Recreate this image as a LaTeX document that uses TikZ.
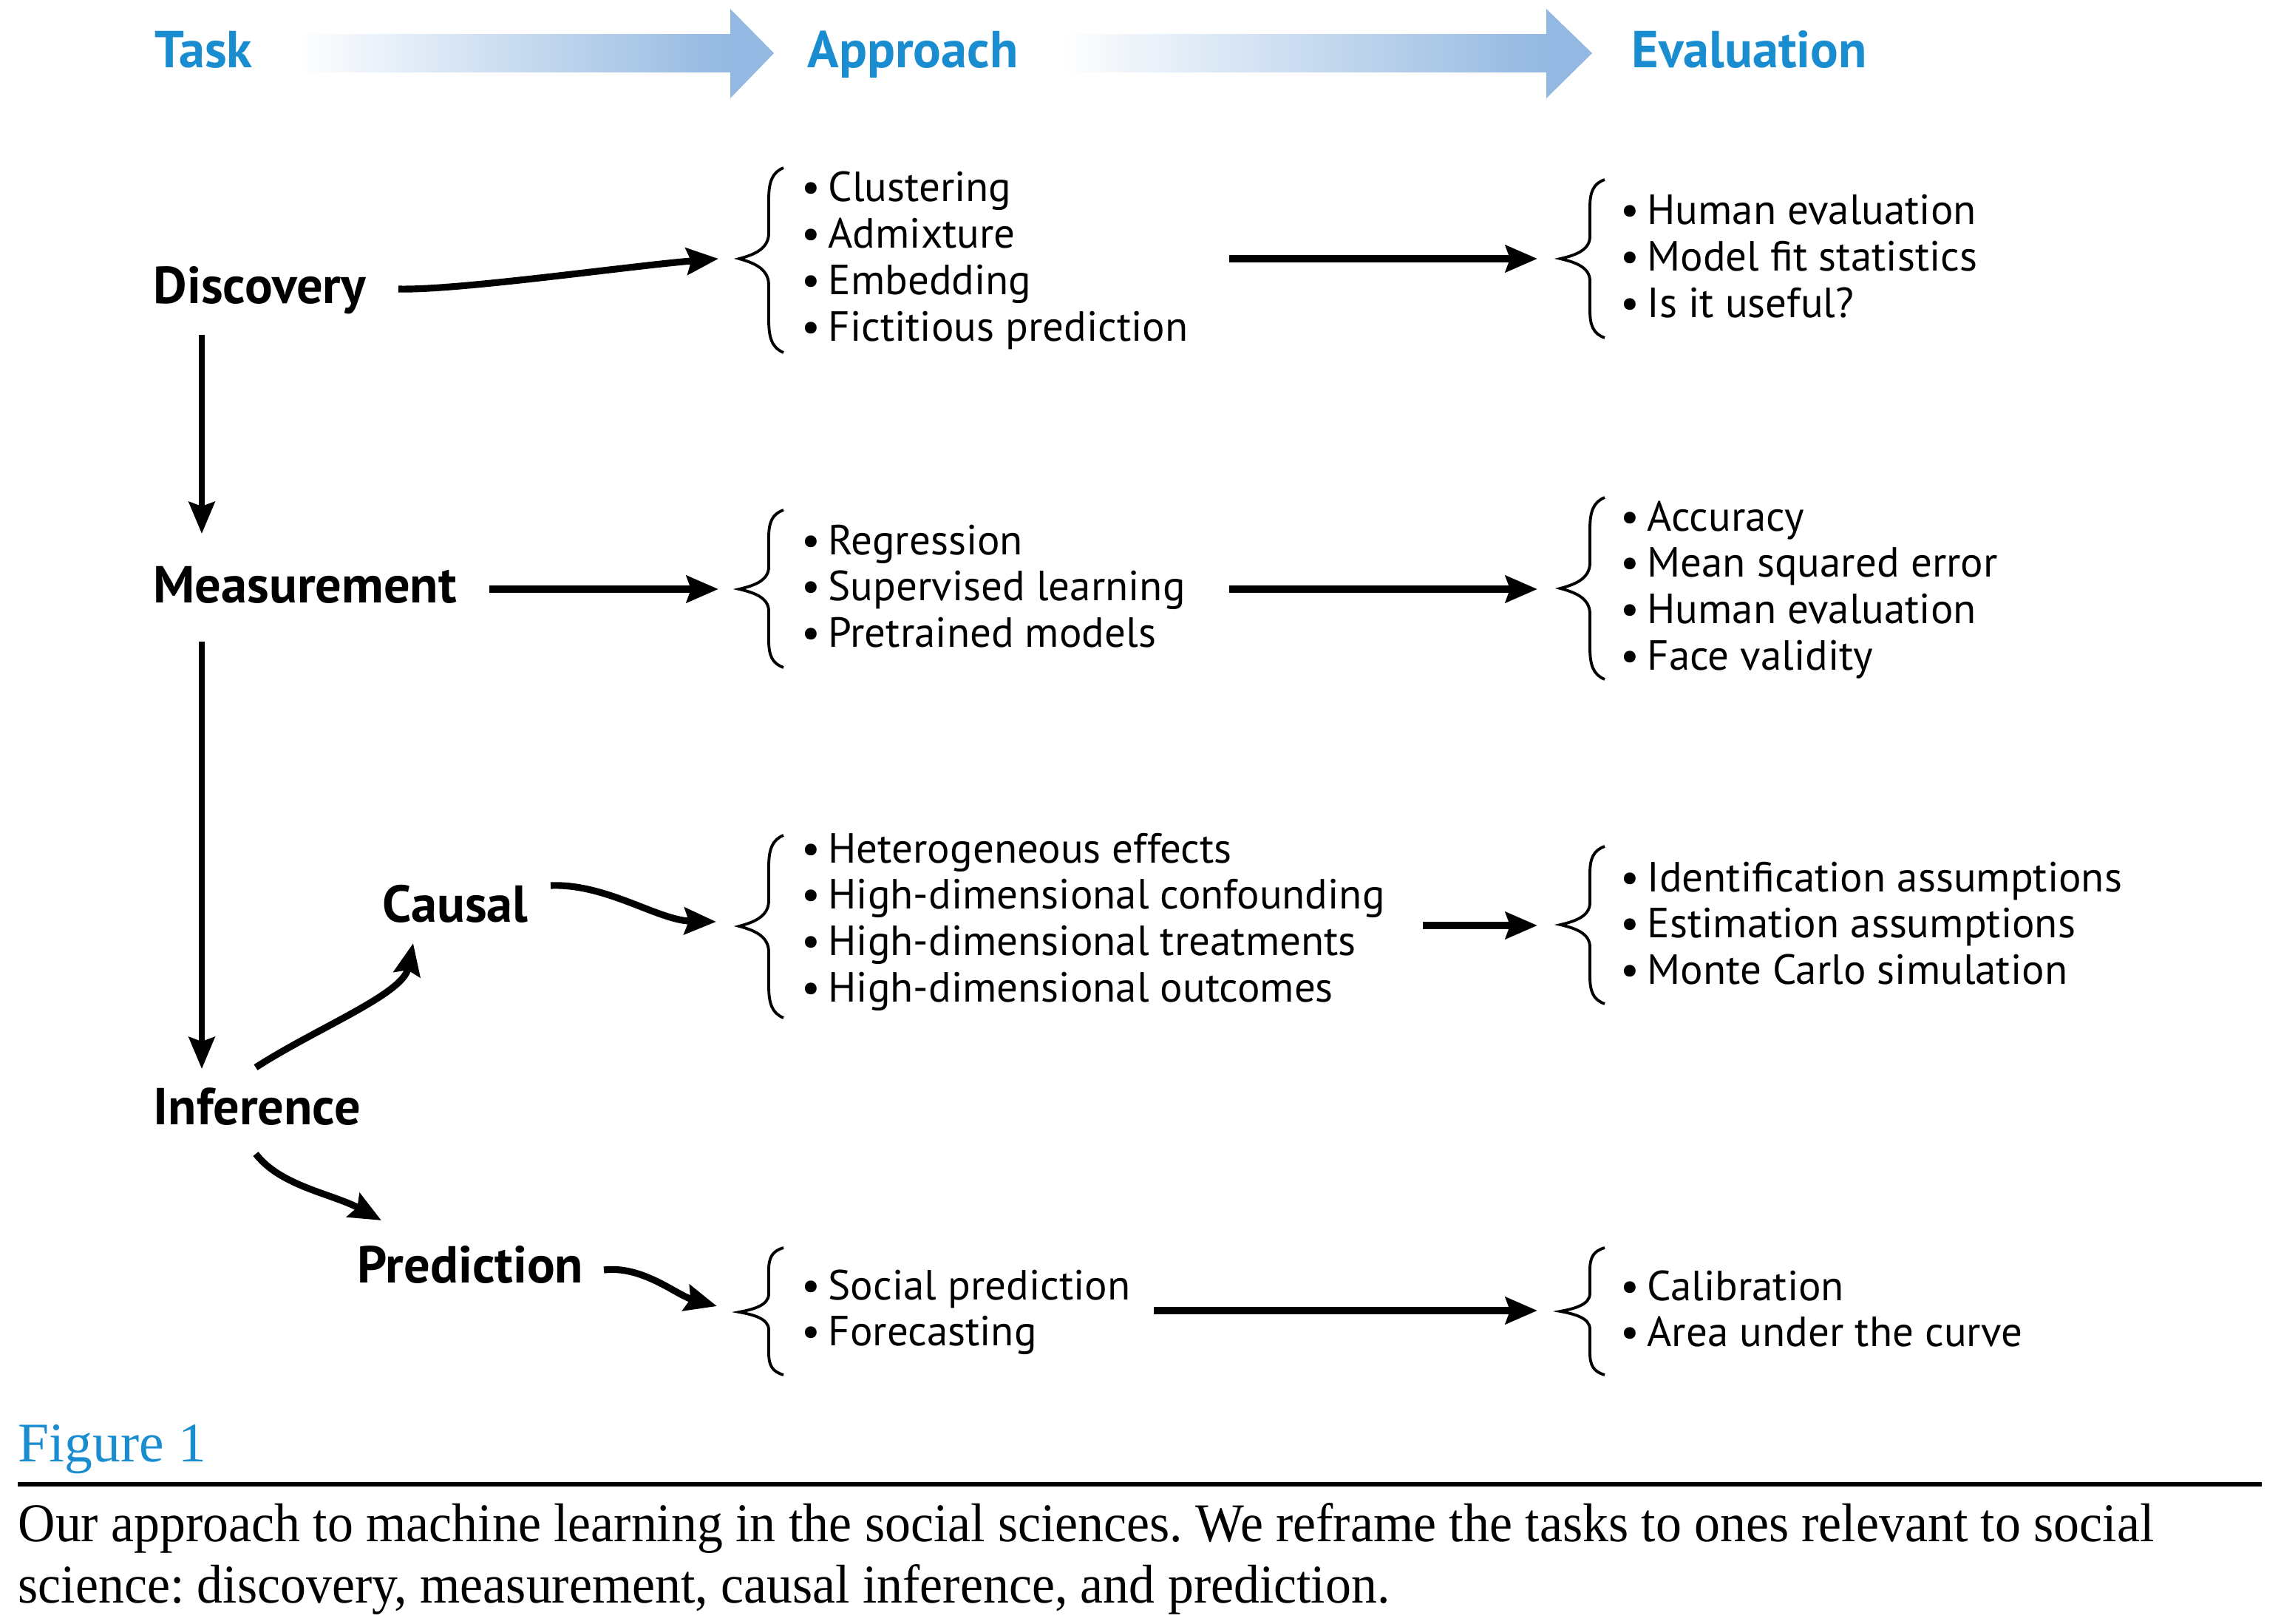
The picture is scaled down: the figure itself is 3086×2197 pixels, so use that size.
\documentclass[tikz,border=0pt]{standalone}
\usepackage{fontspec}
\setmainfont{Liberation Serif}
\newfontfamily\capfont[FakeStretch=0.945]{Liberation Serif}
\newfontfamily\diagfont{PT Sans}
\usetikzlibrary{arrows.meta}
\definecolor{hdrblue}{HTML}{1A8DD0}
\definecolor{arrblue}{HTML}{93B8E1}
\newcommand\bitem{\textbullet\hspace{0.18em}}
\newcommand\blist[1]{\parbox[t]{9cm}{\raggedright #1}}
\newcommand\mybrace[4]{% #1 tip x, #2 top y, #3 bottom y, #4 tip y
  \draw[bracestyle] ({#1+60},#2)
    .. controls ({#1+45},{#2+0.05*(#4-#2)}) and ({#1+40},{#2+0.15*(#4-#2)}) .. ({#1+40},{#2+0.35*(#4-#2)})
    -- ({#1+40},{#2+0.72*(#4-#2)})
    .. controls ({#1+40},{#2+0.9*(#4-#2)}) and ({#1+18},{#4-0.04*(#4-#2)}) .. (#1,#4)
    .. controls ({#1+18},{#4+0.04*(#3-#4)}) and ({#1+40},{#4+0.1*(#3-#4)}) .. ({#1+40},{#4+0.28*(#3-#4)})
    -- ({#1+40},{#4+0.65*(#3-#4)})
    .. controls ({#1+40},{#4+0.85*(#3-#4)}) and ({#1+45},{#3-0.05*(#3-#4)}) .. ({#1+60},#3);}
\begin{document}
\begin{tikzpicture}[x=0.01cm,y=-0.01cm,
  hdr/.style={font=\diagfont\fontsize{20}{23}\selectfont\bfseries, text=hdrblue, anchor=base west, inner sep=0},
  task/.style={font=\diagfont\fontsize{20}{23}\selectfont\bfseries, anchor=base west, inner sep=0},
  items/.style={font=\diagfont\fontsize{16.2}{17.9}\selectfont, anchor=base west, inner sep=0},
  bold arrow/.style={line width=2.6pt, -{Stealth[length=0.43cm,width=0.36cm,inset=0.06cm]}},
  thin arrow/.style={line width=2.2pt, -{Stealth[length=0.43cm,width=0.35cm,inset=0.06cm]}},
  bracestyle/.style={line width=1.1pt}
]
\useasboundingbox (0,0) rectangle (3086,2197);
% header
\node[hdr] (task) at (209,92) {Task};
\node[hdr] (appr) at (1092,92) {Approach};
\node[hdr] (eval) at (2207,92) {Evaluation};
\shade[left color=white,right color=arrblue] (400,47) rectangle (989,98);
\fill[arrblue] (988,47) -- (988,12) -- (1047,72) -- (988,133) -- (988,98) -- cycle;
\shade[left color=white,right color=arrblue] (1432,47) rectangle (2093,98);
\fill[arrblue] (2092,47) -- (2092,12) -- (2154,72) -- (2092,133) -- (2092,98) -- cycle;
% task labels
\node[task] (disc) at (207,410) {Discovery};
\node[task] (meas) at (207,815) {Measurement};
\node[task] (infe) at (207,1521) {Inference};
\node[task] (caus) at (517,1247) {Causal};
\node[task] (pred) at (483,1735) {Prediction};
% approach lists
\node[items] (l1) at (1084,273) {\blist{\bitem Clustering\\\bitem Admixture\\\bitem Embedding\\\bitem Fictitious prediction}};
\node[items] (l2) at (1084,750) {\blist{\bitem Regression\\\bitem Supervised learning\\\bitem Pretrained models}};
\node[items] (l3) at (1084,1167) {\blist{\bitem Heterogeneous effects\\\bitem High-dimensional confounding\\\bitem High-dimensional treatments\\\bitem High-dimensional outcomes}};
\node[items] (l4) at (1084,1758) {\blist{\bitem Social prediction\\\bitem Forecasting}};
% evaluation lists
\node[items] (e1) at (2192,304) {\blist{\bitem Human evaluation\\\bitem Model fit statistics\\\bitem Is it useful?}};
\node[items] (e2) at (2192,718) {\blist{\bitem Accuracy\\\bitem Mean squared error\\\bitem Human evaluation\\\bitem Face validity}};
\node[items] (e3) at (2192,1206) {\blist{\bitem Identification assumptions\\\bitem Estimation assumptions\\\bitem Monte Carlo simulation}};
\node[items] (e4) at (2192,1759) {\blist{\bitem Calibration\\\bitem Area under the curve}};
% braces
\mybrace{1000}{227}{477}{350}
\mybrace{1000}{690}{903}{797}
\mybrace{1000}{1130}{1377}{1253}
\mybrace{1000}{1688}{1860}{1775}
\mybrace{2111}{243}{457}{350}
\mybrace{2111}{673}{919}{796}
\mybrace{2111}{1145}{1358}{1251}
\mybrace{2111}{1688}{1860}{1774}
% connector end points
\coordinate (d0) at (539,391);   \coordinate (b1) at (972,350);
\coordinate (m0) at (662,797);   \coordinate (b2) at (972,797);
\coordinate (c0) at (745,1198);  \coordinate (b3) at (969,1247);
\coordinate (p0) at (817,1718);  \coordinate (b4) at (970,1767);
\coordinate (r1) at (1663,350);  \coordinate (q1) at (2080,350);
\coordinate (r2) at (1663,797);  \coordinate (q2) at (2080,797);
\coordinate (r3) at (1925,1252); \coordinate (q3) at (2080,1252);
\coordinate (r4) at (1561,1773); \coordinate (q4) at (2080,1773);
\coordinate (v1s) at (273,453);  \coordinate (v1e) at (273,722);
\coordinate (v2s) at (273,868);  \coordinate (v2e) at (273,1446);
\coordinate (ic0) at (346,1444); \coordinate (ic1) at (559,1276);
\coordinate (ip0) at (346,1561); \coordinate (ip1) at (516,1651);
% connectors
\draw[bold arrow] (d0) .. controls (620,393) and (850,360) .. (b1);
\draw[bold arrow] (m0) -- (b2);
\draw[bold arrow] (c0) .. controls (820,1195) and (890,1245) .. (b3);
\draw[bold arrow] (p0) .. controls (870,1712) and (915,1752) .. (b4);
\draw[bold arrow] (r1) -- (q1);
\draw[bold arrow] (r2) -- (q2);
\draw[bold arrow] (r3) -- (q3);
\draw[bold arrow] (r4) -- (q4);
\draw[thin arrow] (v1s) -- (v1e);
\draw[thin arrow] (v2s) -- (v2e);
\draw[bold arrow] (ic0) .. controls (430,1390) and (545,1345) .. (ic1);
\draw[bold arrow] (ip0) .. controls (380,1605) and (450,1615) .. (ip1);
% caption
\node[anchor=base west, inner sep=0, font=\fontsize{21.5}{24}\selectfont, text=hdrblue] (fig) at (24,1977) {Figure 1};
\draw[line width=1.7pt] (24,2008) -- (3060,2008);
\node[anchor=base west, inner sep=0, font=\capfont\fontsize{21}{23.6}\selectfont] (cap) at (24,2085) {\parbox[t]{31cm}{\raggedright\frenchspacing Our approach to machine learning in the social sciences. We reframe the tasks to ones relevant to social\\science: discovery, measurement, causal inference, and prediction.}};
\end{tikzpicture}
\end{document}
